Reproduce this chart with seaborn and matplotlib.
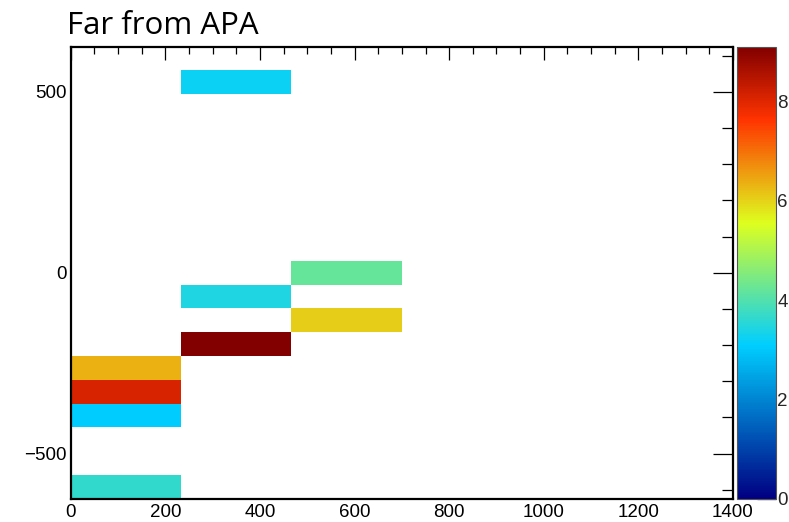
import numpy as np
import pandas as pd
import matplotlib
matplotlib.use("Agg")
import matplotlib.pyplot as plt
import seaborn as sns
from matplotlib.colors import LinearSegmentedColormap
from matplotlib.ticker import MultipleLocator

# Filled bins of the 2D histogram: bin centres and contents
cell_x = [116.7, 116.7, 116.7, 116.7, 350.0, 350.0, 350.0, 583.3, 583.3]
cell_y = [-592.1, -394.7, -328.9, -263.2, -197.4, -65.8, 526.3, -131.6, 0.0]
cell_z = [3.66, 3.09, 8.09, 6.33, 9.10, 3.43, 3.23, 6.05, 4.22]

# Binning and ranges
x_edges = np.linspace(0, 1400, 7)
y_edges = np.linspace(-625, 625, 20)
z_max = 9.1

title = "Far from APA"
x_ticks = [0, 200, 400, 600, 800, 1000, 1200, 1400]
y_ticks = [-500, 0, 500]
z_ticks = [0, 2, 4, 6, 8]

# Gradient palette (stops and RGB components)
stops = [0.00, 0.34, 0.61, 0.84, 1.00]
reds = [0.00, 0.00, 0.87, 1.00, 0.51]
greens = [0.00, 0.81, 1.00, 0.20, 0.00]
blues = [0.51, 1.00, 0.12, 0.00, 0.00]

palette = LinearSegmentedColormap.from_list(
    "gradient", list(zip(stops, zip(reds, greens, blues))), N=256
)

sns.set_style("white")
plt.rcParams["font.family"] = ["Liberation Sans", "DejaVu Sans"]

W, H = 789, 522
fig = plt.figure(figsize=(W / 100, H / 100), dpi=100)
ax = fig.add_axes([70.7 / W, 1 - 498.7 / H, (733 - 70.7) / W, (498.7 - 46.7) / H])
cax = fig.add_axes([736.7 / W, 1 - 498.7 / H, (776 - 736.7) / W, (498.7 - 46.7) / H])

df = pd.DataFrame({"x": cell_x, "y": cell_y, "z": cell_z})
sns.histplot(
    data=df, x="x", y="y", weights="z",
    bins=[x_edges, y_edges],
    cmap=palette, vmin=0, vmax=z_max,
    cbar=True, cbar_ax=cax,
    linewidth=0, antialiased=False,
    ax=ax,
)

ax.set_xlim(x_edges[0], x_edges[-1])
ax.set_ylim(y_edges[0], y_edges[-1])
ax.set_xlabel("")
ax.set_ylabel("")
ax.set_xticks(x_ticks)
ax.set_yticks(y_ticks)
ax.set_yticklabels(["\u2212500", "0", "500"])
ax.xaxis.set_minor_locator(MultipleLocator(50))
ax.yaxis.set_minor_locator(MultipleLocator(100))
ax.grid(False)

ax.tick_params(which="both", direction="in", top=True, right=True,
               color="black", width=0.9, labelsize=13.5, labelcolor="black")
ax.tick_params(axis="x", which="major", length=9.5, pad=4)
ax.tick_params(axis="x", which="minor", length=5)
ax.tick_params(axis="y", which="major", length=14.5, pad=3)
ax.tick_params(axis="y", which="minor", length=8)
for sp in ax.spines.values():
    sp.set_visible(True)
    sp.set_color("black")
    sp.set_linewidth(1.6)

cax.set_ylim(0, z_max)
cax.set_yticks(z_ticks)
cax.tick_params(axis="y", which="major", direction="in", right=True, left=False,
                length=14, width=0.9, color="black", labelsize=13.5, pad=1)
cax.tick_params(axis="y", which="minor", length=0)
for sp in cax.spines.values():
    sp.set_color("#555555")
    sp.set_linewidth(0.8)

fig.text(67 / W, 1 - 34 / H, title, family=["Open Sans", "DejaVu Sans"],
         fontsize=22.5, ha="left", va="baseline", color="black")

fig.savefig("out.png", dpi=100, facecolor="white")
